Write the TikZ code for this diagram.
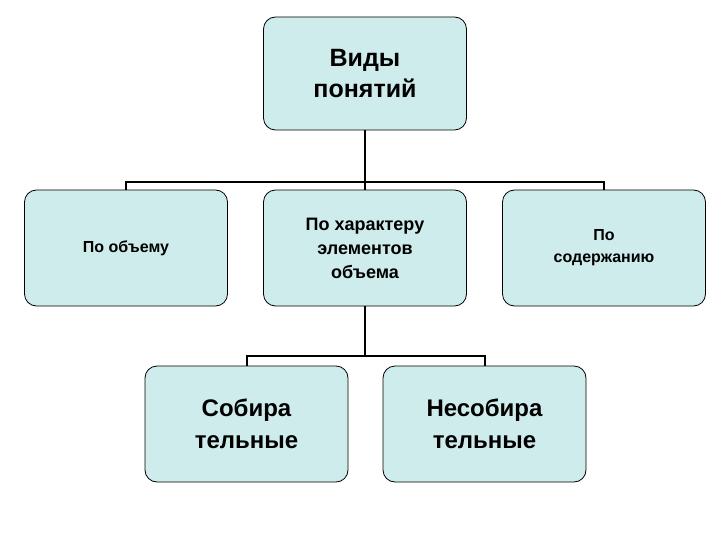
\documentclass[tikz,border=0pt]{standalone}
\usepackage{fontspec}
\setmainfont{Liberation Sans}
\begin{document}
\begin{tikzpicture}[x=1pt,y=-1pt,
  box/.style={draw=black,line width=0.8pt,fill=boxfill,rounded corners=12pt,minimum width=203pt,minimum height=116pt,align=center,font=\bfseries},
  conn/.style={line width=2pt}]
\definecolor{boxfill}{RGB}{206,236,236}
\useasboundingbox (0,0) rectangle (720,540);
\node[box,minimum height=113pt,font=\bfseries\fontsize{25}{31}\selectfont] (top) at (365,73.5) {Виды\\понятий};
\node[box,font=\bfseries\fontsize{16}{20}\selectfont] (l) at (126,248) {По объему};
\node[box,font=\bfseries\fontsize{18}{24}\selectfont] (m) at (365,248) {По характеру\\элементов\\объема};
\node[box,font=\bfseries\fontsize{16}{22}\selectfont] (r) at (604,248) {По\\содержанию};
\node[box,font=\bfseries\fontsize{24}{32}\selectfont] (b1) at (246.5,424) {Собира\\тельные};
\node[box,font=\bfseries\fontsize{24}{32}\selectfont] (b2) at (484.5,424) {Несобира\\тельные};
\coordinate (h1) at (365,182);
\coordinate (h2) at (365,356);
\draw[conn] (top.south) -- (m.north);
\draw[conn] (l.north) -- (l.north |- h1) -- (r.north |- h1) -- (r.north);
\draw[conn] (m.south) -- (h2);
\draw[conn] (b1.north) -- (b1.north |- h2) -- (b2.north |- h2) -- (b2.north);
\end{tikzpicture}
\end{document}
